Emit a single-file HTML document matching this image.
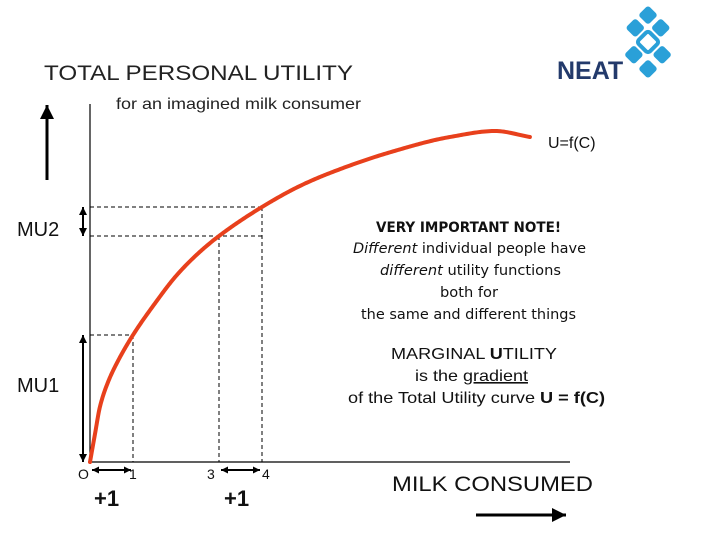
<!DOCTYPE html>
<html><head><meta charset="utf-8"><style>
body{margin:0;background:#fff}
svg{display:block}
text{font-family:"Liberation Sans",sans-serif}
</style></head><body>
<svg id="c" width="720" height="540" xmlns="http://www.w3.org/2000/svg">
<text x="44" y="80" font-size="21" fill="#222" textLength="309" lengthAdjust="spacingAndGlyphs">TOTAL PERSONAL UTILITY</text>
<text x="116" y="109" font-size="16" fill="#222" textLength="245" lengthAdjust="spacingAndGlyphs">for an imagined milk consumer</text>
<g>
<text x="557" y="79" font-size="25" font-weight="bold" fill="#233a6b">NEAT</text>
<g fill="#2aa0d8" transform="translate(648,42) rotate(45)">
<rect x="-8" y="-8" width="16" height="16" rx="3" fill="none" stroke="#2aa0d8" stroke-width="4"/>
<rect x="-8" y="-26" width="14" height="14" rx="3"/><rect x="12" y="-8" width="14" height="14" rx="3"/>
<rect x="-8" y="12" width="14" height="14" rx="3"/><rect x="-26" y="-8" width="14" height="14" rx="3"/>
<rect x="-26" y="-26" width="14" height="14" rx="3"/><rect x="12" y="12" width="14" height="14" rx="3"/>
</g></g>
<g stroke="#000" stroke-width="1.2">
<line x1="90" y1="104" x2="90" y2="462"/>
<line x1="90" y1="462" x2="570" y2="462"/>
</g>
<g id="guides" stroke="#000" stroke-width="1" stroke-dasharray="4,3" fill="none"></g>
<g id="arrows" fill="#000" stroke="#000"></g>
<path id="curve" fill="none" stroke="#e8401c" stroke-width="4" stroke-linecap="round" stroke-linejoin="round"/>
<text x="548" y="148" font-size="16" fill="#111">U=f(C)</text>
<text x="17" y="236" font-size="20" fill="#111">MU2</text>
<text x="17" y="392" font-size="20" fill="#111">MU1</text>
<g font-family="Liberation Serif" font-size="14" fill="#111">
<text x="78" y="479">O</text><text x="129" y="479">1</text><text x="207" y="479">3</text><text x="262" y="479">4</text>
</g>
<text x="94" y="506" font-family="Liberation Serif" font-size="22" font-weight="bold" fill="#111">+1</text>
<text x="224" y="506" font-family="Liberation Serif" font-size="22" font-weight="bold" fill="#111">+1</text>
<g font-size="14" fill="#111">
<text x="376" y="232" font-weight="bold" textLength="185" lengthAdjust="spacingAndGlyphs" style="font-family:'DejaVu Sans',sans-serif">VERY IMPORTANT NOTE!</text>
<text x="353" y="253" textLength="233" lengthAdjust="spacingAndGlyphs" style="font-family:'DejaVu Sans',sans-serif"><tspan font-style="italic">Different</tspan> individual people have</text>
<text x="380" y="275" textLength="181" lengthAdjust="spacingAndGlyphs" style="font-family:'DejaVu Sans',sans-serif"><tspan font-style="italic">different</tspan> utility functions</text>
<text x="440" y="297" textLength="58" lengthAdjust="spacingAndGlyphs" style="font-family:'DejaVu Sans',sans-serif">both for</text>
<text x="361" y="319" textLength="215" lengthAdjust="spacingAndGlyphs" style="font-family:'DejaVu Sans',sans-serif">the same and different things</text>
</g>
<g font-size="16" fill="#111">
<text x="391" y="359" textLength="166" lengthAdjust="spacingAndGlyphs">MARGINAL <tspan font-weight="bold">U</tspan>TILITY</text>
<text x="415" y="381" textLength="113" lengthAdjust="spacingAndGlyphs">is the <tspan text-decoration="underline">gradient</tspan></text>
<text x="348" y="403" textLength="257" lengthAdjust="spacingAndGlyphs">of the Total Utility curve <tspan font-weight="bold">U = f(C)</tspan></text>
</g>
<text x="392" y="491" font-size="21" fill="#111" textLength="201" lengthAdjust="spacingAndGlyphs">MILK CONSUMED</text>
</svg>
<script>
const consumption=[0,0.12,0.23,0.42,0.65,1,1.5,2,2.5,3,4,4.88,5.58,7,8.37,9.42,10.23];
const utility=[0,29,55,80,101,127,158,186,208,226,255,276,289,310,325,331,325];
const markers=[1,3,4];
const x0=90,y0=462,px=43;
const sx=c=>x0+c*px, sy=u=>y0-u;
const NS='http://www.w3.org/2000/svg';
const n=consumption.length,h=[],dl=[],m=new Array(n);
for(let i=0;i<n-1;i++){h[i]=consumption[i+1]-consumption[i];dl[i]=(utility[i+1]-utility[i])/h[i];}
m[0]=dl[0];m[n-1]=dl[n-2];
for(let i=1;i<n-1;i++){if(dl[i-1]*dl[i]<=0)m[i]=0;else{const w1=2*h[i]+h[i-1],w2=h[i]+2*h[i-1];m[i]=(w1+w2)/(w1/dl[i-1]+w2/dl[i]);}}
function U(c){let i=0;while(i<n-2&&c>consumption[i+1])i++;
const t=(c-consumption[i])/h[i],t2=t*t,t3=t2*t;
return (2*t3-3*t2+1)*utility[i]+(t3-2*t2+t)*h[i]*m[i]+(-2*t3+3*t2)*utility[i+1]+(t3-t2)*h[i]*m[i+1];}
let d='';
const cMax=consumption[n-1];
for(let k=0;k<=400;k++){const c=cMax*Math.pow(k/400,1.6);d+=(k?' L':'M')+sx(c).toFixed(2)+','+sy(U(c)).toFixed(2);}
document.getElementById('curve').setAttribute('d',d);
const g=document.getElementById('guides');
function line(par,x1,y1,x2,y2,name){const l=document.createElementNS(NS,'line');l.setAttribute('x1',x1);l.setAttribute('y1',y1);l.setAttribute('x2',x2);l.setAttribute('y2',y2);


par.appendChild(l);return l;}
line(g,x0,sy(U(1)),sx(1),sy(U(1)),'guide-h-1');
line(g,x0,sy(U(3)),sx(4),sy(U(3)),'guide-h-3');
line(g,x0,sy(U(4)),sx(4),sy(U(4)),'guide-h-4');
markers.forEach(mk=>line(g,sx(mk),sy(U(mk)),sx(mk),y0,'guide-v-'+mk));
const a=document.getElementById('arrows');
function arrow(x1,y1,x2,y2,w,hh,both,name){const gg=document.createElementNS(NS,'g');


a.appendChild(gg);const l=line(gg,x1,y1,x2,y2,name+'-shaft');l.setAttribute('stroke-width',w);
const head=(xa,ya,xb,yb)=>{const ang=Math.atan2(yb-ya,xb-xa),p=document.createElementNS(NS,'polygon');
const q=[[xb,yb],[xb-hh*Math.cos(ang)+hh*0.5*Math.sin(ang),yb-hh*Math.sin(ang)-hh*0.5*Math.cos(ang)],[xb-hh*Math.cos(ang)-hh*0.5*Math.sin(ang),yb-hh*Math.sin(ang)+hh*0.5*Math.cos(ang)]];
p.setAttribute('points',q.map(v=>v.join(',')).join(' '));p.setAttribute('stroke','none');gg.appendChild(p);};
head(x1,y1,x2,y2);if(both)head(x2,y2,x1,y1);}
arrow(83,sy(U(1)),83,y0,2,8,true,'mu1-arrow');
arrow(83,sy(U(4)),83,sy(U(3)),2,8,true,'mu2-arrow');
arrow(sx(0)+2,470,sx(1)-2,470,2,7,true,'delta-arrow-a');
arrow(sx(3)+2,470,sx(4)-2,470,2,7,true,'delta-arrow-b');
arrow(47,180,47,105,3,14,false,'utility-up-arrow');
arrow(476,515,566,515,3,14,false,'milk-right-arrow');
</script>
</body></html>
